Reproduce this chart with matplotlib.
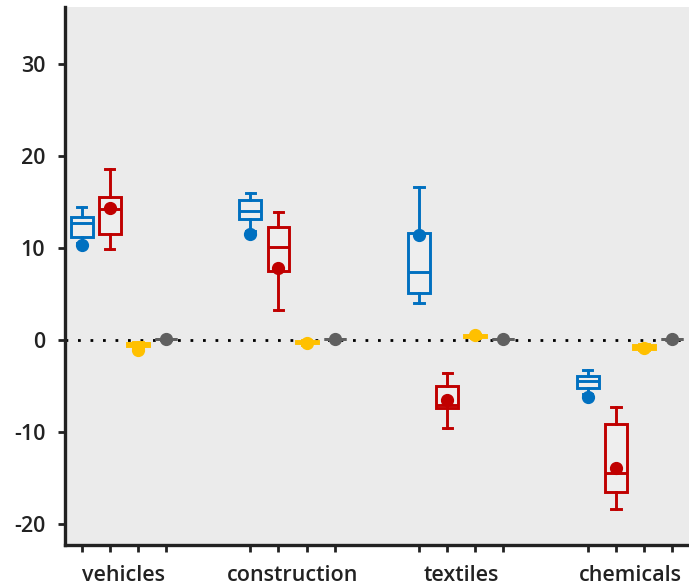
import matplotlib
matplotlib.use("Agg")
import matplotlib.pyplot as plt

plt.rcParams["axes.unicode_minus"] = False

categories = ["vehicles", "construction", "textiles", "chemicals"]
colors = ["#0070c0", "#c00000", "#ffc000", "#606060"]

# per series: [whislo, q1, med, q3, whishi] for each category
blue_stats = [[10.6, 11.2, 12.7, 13.4, 14.45],
              [11.8, 13.2, 14.0, 15.2, 16.0],
              [4.0, 5.1, 7.4, 11.6, 16.6],
              [-5.9, -5.2, -4.4, -3.9, -3.3]]
red_stats = [[9.9, 11.5, 14.2, 15.5, 18.6],
             [3.3, 7.5, 10.1, 12.3, 13.9],
             [-9.6, -7.4, -7.1, -5.0, -3.6],
             [-18.4, -16.5, -14.4, -9.1, -7.3]]
yellow_stats = [[-0.8, -0.7, -0.5, -0.3, -0.2],
                [-0.5, -0.35, -0.2, -0.05, 0.0],
                [0.25, 0.3, 0.45, 0.6, 0.65],
                [-1.1, -1.0, -0.75, -0.5, -0.45]]
gray_stats = [[0.05, 0.07, 0.1, 0.13, 0.15]] * 4

blue_dots = [10.3, 11.5, 11.4, -6.2]
red_dots = [14.3, 7.8, -6.5, -13.9]
yellow_dots = [-1.1, -0.3, 0.5, -0.9]
gray_dots = [0.1, 0.1, 0.1, 0.1]

series_stats = [blue_stats, red_stats, yellow_stats, gray_stats]
series_dots = [blue_dots, red_dots, yellow_dots, gray_dots]

fig = plt.figure(figsize=(6.89, 5.85), dpi=100)
ax = fig.add_axes([0.094, 0.068, 0.906, 0.92])
ax.set_facecolor("#ebebeb")

lw = 2.1
for j, (stats, dots, c) in enumerate(zip(series_stats, series_dots, colors)):
    bxs = []
    pos = []
    for g, s in enumerate(stats):
        bxs.append(dict(whislo=s[0], q1=s[1], med=s[2], q3=s[3], whishi=s[4], fliers=[]))
        pos.append(g * 6 + j)
    ax.bxp(bxs, positions=pos, widths=0.78, showfliers=False, patch_artist=True,
           boxprops=dict(facecolor="#eeeeee", edgecolor=c, linewidth=lw),
           medianprops=dict(color=c, linewidth=lw),
           whiskerprops=dict(color=c, linewidth=lw),
           capprops=dict(color=c, linewidth=lw),
           capwidths=0.33, zorder=3)
    ax.plot(pos, dots, "o", color=c, markersize=8.5, zorder=4, linestyle="none")

ax.axhline(0, color="black", linestyle=(0, (1, 3.5)), linewidth=2, zorder=2)

ax.set_xlim(-0.6, 21.6)
ax.set_ylim(-22.3, 36.2)

ticks = [g * 6 + j for g in range(4) for j in range(4)]
ax.set_xticks(ticks)
ax.set_xticklabels([])
ax.set_xticks([g * 6 + 1.5 for g in range(4)], minor=True)
ax.set_xticklabels(categories, minor=True)
ax.tick_params(axis="x", which="major", length=5, width=2, color="#222222")
ax.tick_params(axis="x", which="minor", length=0, pad=14, labelsize=15.5, labelcolor="#222222")

ax.set_yticks([-20, -10, 0, 10, 20, 30])
ax.tick_params(axis="y", length=5, width=2, color="#222222", labelsize=15.5, labelcolor="#222222", pad=9)
for lab in ax.get_yticklabels() + ax.get_xticklabels(minor=True):
    lab.set_family("Open Sans")
    lab.set_weight("semibold")

for sp in ["top", "right"]:
    ax.spines[sp].set_visible(False)
for sp in ["left", "bottom"]:
    ax.spines[sp].set_linewidth(2.4)
    ax.spines[sp].set_color("#222222")

fig.savefig("out.png", dpi=100)
